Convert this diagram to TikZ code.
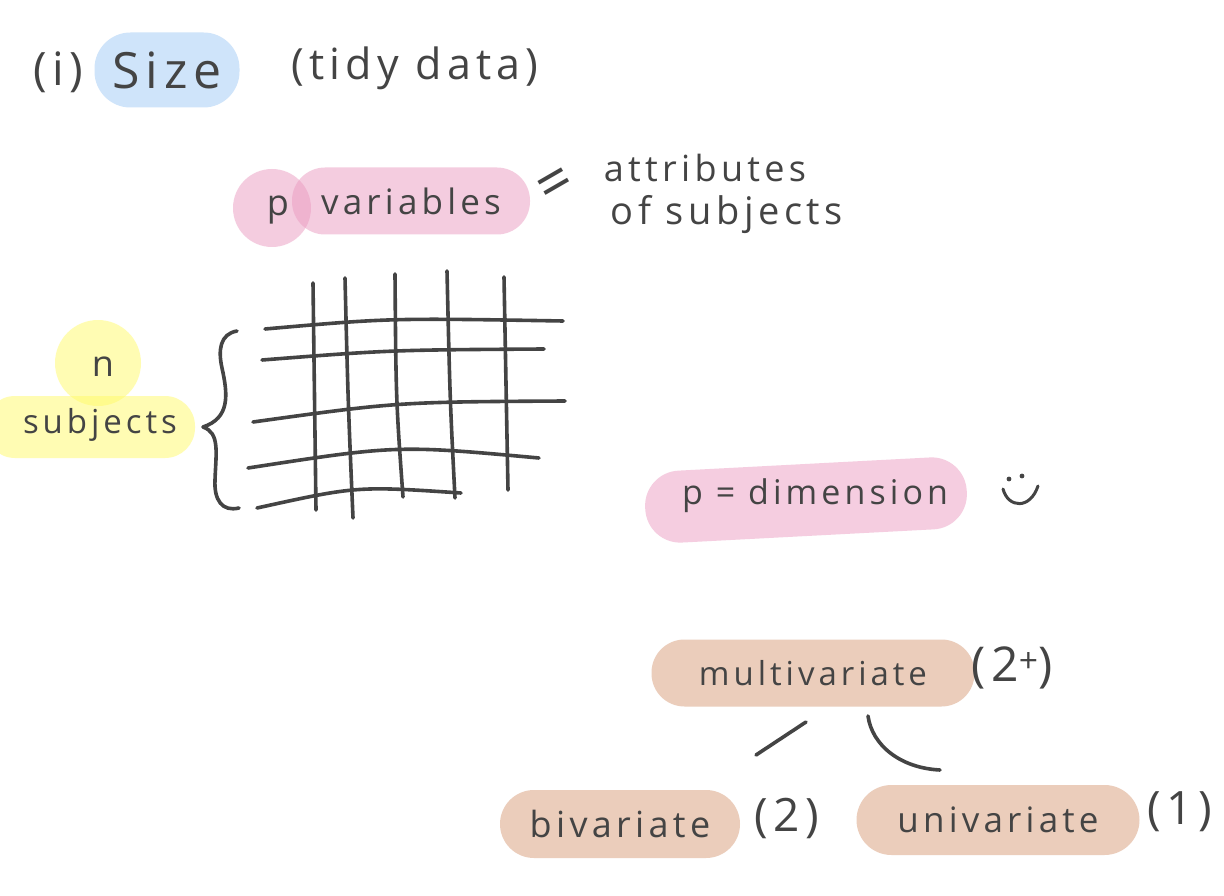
\documentclass[tikz,border=0pt]{standalone}
\usepackage{fontspec}
\setmainfont{Open Sans}[LetterSpace=12]
\definecolor{ink}{HTML}{444444}
\definecolor{hlblue}{HTML}{CFE4FA}
\definecolor{hlpink}{HTML}{EB9BC1}
\definecolor{hlyellow}{HTML}{FFFB69}
\definecolor{hlpeach}{HTML}{EBCDBB}
\definecolor{hlpinksolid}{HTML}{F5CDE0}
\newcommand{\fs}[1]{\fontsize{#1}{#1}\selectfont}
\tikzset{
  hw/.style={text=ink, inner sep=0pt, font=\fs{#1}},
  hl/.style={fill=#1, inner sep=0pt, text=ink},
  pen/.style={draw=ink, line width=3.6pt, line cap=round, line join=round},
  semi/.style={fill opacity=0.5, text opacity=1},
}
\begin{document}
\begin{tikzpicture}[x=1pt,y=-1pt]
\useasboundingbox[fill=white] (0,0) rectangle (1224,896);

% (i) Size (tidy data)
\node[hw=46] (num) at (58,72) {(i)};
\node[hl=hlblue, minimum width=145pt, minimum height=75pt, rounded corners=36pt, font=\fs{50}] (size) at (167,70) {Size};
\node[hw=43] (tidy) at (415,68) {(tidy data)};

% p variables = attributes of subjects
\node[circle, hl=hlpink, semi, minimum size=78pt] (pcirc) at (272,208) {};
\node[hl=hlpink, semi, minimum width=238pt, minimum height=67pt, rounded corners=33pt, font=\fs{35}] (vars) at (411,201) {variables};
\node[hw=36] (p) at (278,210) {p};
\node[hw=60, rotate=30] (eq) at (557,187) {=};
\node[hw=36] (attr) at (705,168) {attributes};
\node[hw=38] (ofsub) at (727,215) {of subjects};

% n subjects
\node[circle, hl=hlyellow, semi, minimum size=86pt] (ncirc) at (98,363) {};
\node[hl=hlyellow, semi, minimum width=210pt, minimum height=62pt, rounded corners=30pt] (sband) at (90,427) {};
\node[hw=36] (n) at (103,367) {n};
\node[hw=33] (subj) at (100,425) {subjects};

% brace
\draw[pen] (237,331) .. controls (220,334) and (218,350) .. (222,368)
  .. controls (228,395) and (230,418) .. (203,427)
  .. controls (220,433) and (216,452) .. (215,480)
  .. controls (214,500) and (222,512) .. (239,508);

% grid
\draw[pen] (313,283) -- (316,510);
\draw[pen] (345,278) .. controls (348,400) .. (353,518);
\draw[pen] (395,274) .. controls (396,400) .. (403,497);
\draw[pen] (447,271) .. controls (450,400) .. (455,498);
\draw[pen] (504,277) -- (508,490);
\draw[pen] (265,329) .. controls (390,318) .. (563,321);
\draw[pen] (262,360) .. controls (390,350) .. (544,349);
\draw[pen] (253,422) .. controls (397,402) .. (565,401);
\draw[pen] (248,468) .. controls (397,445) .. (539,458);
\draw[pen] (257,508) .. controls (357,486) .. (461,493);

% p = dimension
\node[hl=hlpinksolid, minimum width=322pt, minimum height=72pt, rounded corners=35pt, rotate=3] (dimband) at (806,500) {};
\node[hw=34] (dim) at (815,496) {p = dimension};
\coordinate (eyeL) at (1009,479);
\coordinate (eyeR) at (1022,476);
\fill[ink] (eyeL) circle (2.4pt);
\fill[ink] (eyeR) circle (2.4pt);
\coordinate (smA) at (1003,489);
\coordinate (smB) at (1038,486);
\draw[pen, line width=3pt] (smA) .. controls (1008,508) and (1030,510) .. (smB);

% multivariate tree
\node[hl=hlpeach, minimum width=323pt, minimum height=67pt, rounded corners=33pt, font=\fs{33}] (multi) at (813,673) {multivariate};
\node[hw=48] (multin) at (1012,668) {(2\textsuperscript{+})};
\node[hl=hlpeach, minimum width=240pt, minimum height=68pt, rounded corners=34pt, font=\fs{36}] (bi) at (620,824) {bivariate};
\node[hw=46] (bin) at (787,818) {(2)};
\node[hl=hlpeach, minimum width=283pt, minimum height=70pt, rounded corners=35pt, font=\fs{35}] (uni) at (998,820) {univariate};
\node[hw=46] (unin) at (1180,812) {(1)};

\coordinate (biTop) at (756,755);
\coordinate (multiL) at (806,722);
\coordinate (uniTop) at (940,770);
\coordinate (multiR) at (868,716);
\draw[pen] (biTop) -- (multiL);
\draw[pen] (uniTop) .. controls (900,768) and (872,745) .. (multiR);
\end{tikzpicture}
\end{document}
